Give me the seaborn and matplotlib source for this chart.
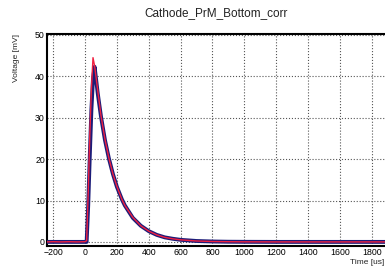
import numpy as np
import pandas as pd
import seaborn as sns
import matplotlib.pyplot as plt
from matplotlib.ticker import MultipleLocator

# Waveform (time in us, voltage in mV)
data_t = [-240, -200, -150, -100, -50, 0, 10, 20, 30, 40, 50, 60, 80, 100, 125, 150,
          175, 200, 231, 250, 300, 350, 400, 450, 500, 550, 600, 700, 800, 900, 1000,
          1200, 1400, 1600, 1800, 1900]
data_v = [0.0, 0.05, 0.0, 0.05, 0.0, 0.05, 0.3, 12.0, 26.0, 37.0, 44.5, 42.5, 36.5, 30.5, 24.8, 20.2,
          16.4, 13.4, 10.3, 8.8, 5.9, 3.9, 2.6, 1.7, 1.1, 0.75, 0.5, 0.22, 0.1, 0.05, 0.02,
          0.0, 0.0, 0.0, 0.0, 0.0]

fit_t = [-240, 0, 10, 20, 30, 40, 50, 60, 80, 100, 125, 150, 175, 200, 231, 250, 300,
         350, 400, 450, 500, 550, 600, 700, 800, 900, 1000, 1200, 1400, 1600, 1800, 1900]
fit_v = [0.0, 0.0, 0.0, 9.0, 21.0, 32.0, 39.5, 42.3, 35.8, 30.3, 24.6, 20.1,
         16.4, 13.3, 10.3, 8.8, 5.8, 3.9, 2.6, 1.7, 1.1, 0.76, 0.5, 0.22, 0.1, 0.04,
         0.02, 0.0, 0.0, 0.0, 0.0, 0.0]

df_data = pd.DataFrame({'t': data_t, 'v': data_v})
df_fit = pd.DataFrame({'t': fit_t, 'v': fit_v})

sns.set_theme(style="white")
plt.rcParams['font.family'] = ['Liberation Sans', 'DejaVu Sans']

fig = plt.figure(figsize=(3.85, 2.66), dpi=100)
ax = fig.add_axes([0.122, 0.075, 0.885, 0.797])

sns.lineplot(data=df_fit, x='t', y='v', ax=ax, color='#1c1c78', linewidth=2.8, zorder=3)
sns.lineplot(data=df_data, x='t', y='v', ax=ax, color='#f02040', linewidth=1.0, zorder=4)

ax.set_xlim(-239, 1900)
ax.set_ylim(-1, 50.2)
ax.xaxis.set_major_locator(MultipleLocator(200))
ax.xaxis.set_minor_locator(MultipleLocator(50))
ax.yaxis.set_major_locator(MultipleLocator(10))
ax.yaxis.set_minor_locator(MultipleLocator(2))
ax.tick_params(which='both', direction='in', colors='black', labelsize=6.3, pad=1.5)
ax.tick_params(which='major', length=6, width=1)
ax.tick_params(which='minor', length=3, width=0.8)
ax.tick_params(axis='both', which='both', top=False, right=False)
ax.grid(True, which='major', linestyle=':', color='#555555', linewidth=0.8)
for s in ax.spines.values():
    s.set_color('black')
    s.set_linewidth(1.5)

ax.set_xlabel('Time [us]', fontsize=6, ha='right', x=0.99, labelpad=1)
ax.set_ylabel('Voltage [mV]', fontsize=6, ha='right', y=1.0, labelpad=11)
fig.text(0.56, 0.95, 'Cathode_PrM_Bottom_corr', ha='center', va='center', fontsize=8.5,
         color='#222222')

plt.savefig('out.png', dpi=100)
